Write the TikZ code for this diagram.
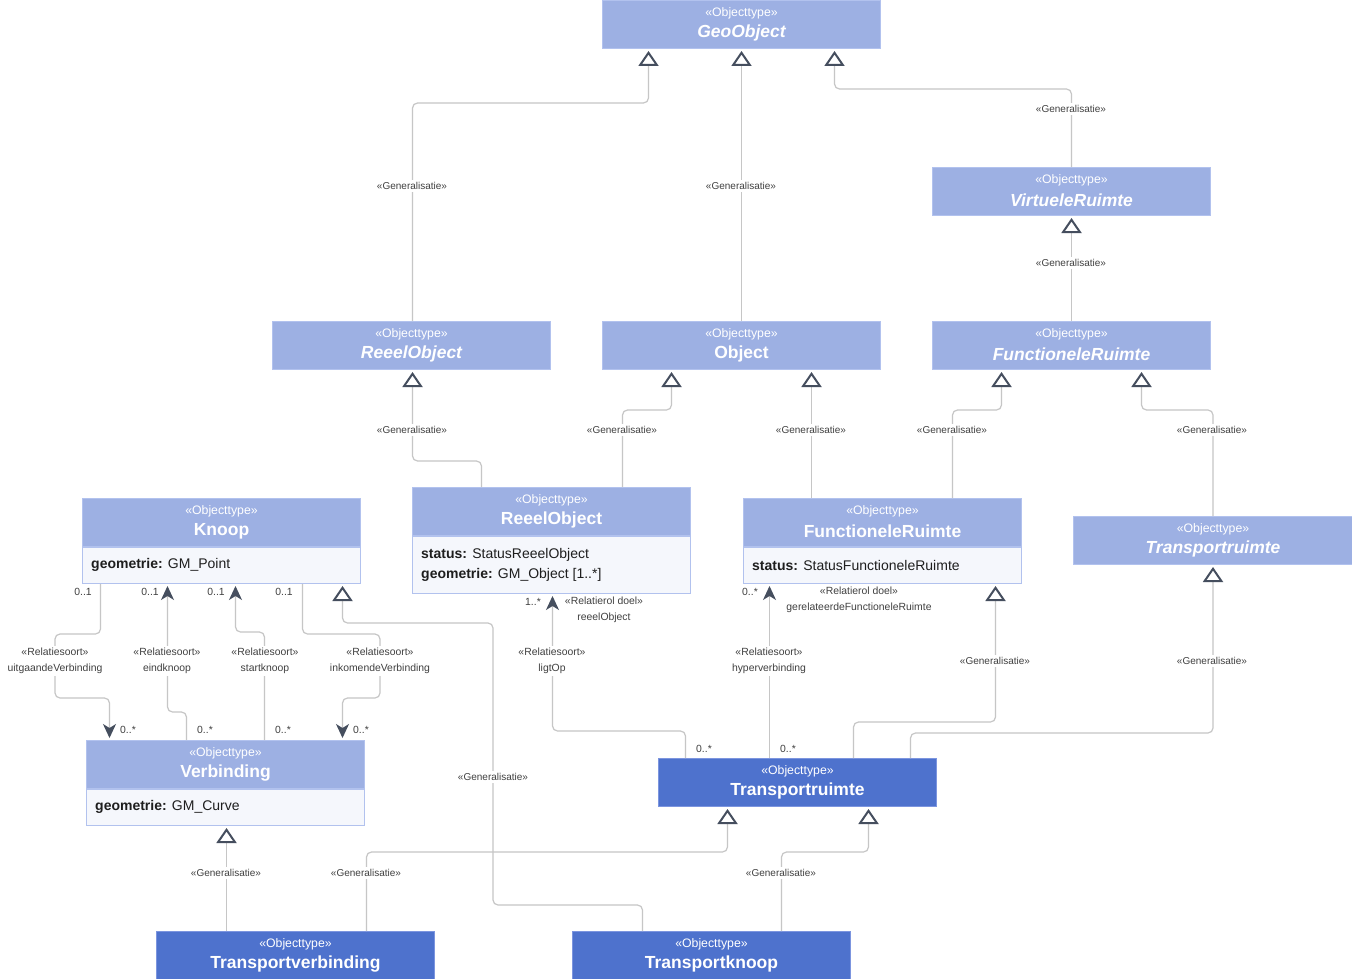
\documentclass[tikz,border=0pt]{standalone}
\usepackage{fontspec}
\setmainfont{Liberation Sans}
\usetikzlibrary{arrows.meta}
\definecolor{hdrblue}{HTML}{9DB0E3}
\definecolor{hdrborder}{HTML}{B2C2EE}
\definecolor{attrbg}{HTML}{F5F7FC}
\definecolor{darkblue}{HTML}{4E72CD}
\definecolor{darkborder}{HTML}{7C95DF}
\definecolor{linegray}{HTML}{C6C6C6}
\definecolor{tipdark}{HTML}{454E5E}
\definecolor{labgray}{HTML}{404040}
\definecolor{attrtext}{HTML}{1E1E1E}
\tikzset{
  hdr/.style={anchor=north west, minimum width=278pt, minimum height=48pt, inner sep=0pt, fill=hdrblue, draw=hdrborder, line width=1pt},
  hdrdark/.style={hdr, fill=darkblue, draw=darkborder},
  attrbox/.style={anchor=north west, minimum width=278pt, inner sep=0pt, fill=attrbg, draw=hdrborder, line width=1pt},
  ster/.style={text=white, font=\fontsize{12.3}{13}\selectfont, inner sep=0pt},
  cname/.style={text=white, font=\fontsize{17.5}{18}\selectfont\bfseries, inner sep=0pt},
  cnamei/.style={cname, font=\fontsize{17.5}{18}\selectfont\bfseries\itshape},
  attrtxt/.style={anchor=west, text=attrtext, font=\fontsize{14}{20}\selectfont, align=left, inner sep=0pt},
  conn/.style={draw=linegray, line width=1.2pt, rounded corners=5pt},
  gen/.style={conn, -{Triangle[open, length=15pt, width=20pt, line width=2pt, color=tipdark]}},
  assoc/.style={conn, -{Stealth[length=14pt, width=13pt, inset=4pt, color=tipdark]}},
  glab/.style={fill=white, text=labgray, font=\fontsize{10}{11}\selectfont, inner sep=2pt},
  rlab/.style={fill=white, text=labgray, font=\fontsize{10.4}{16}\selectfont, align=center, inner sep=2pt},
  mlab/.style={text=labgray, font=\fontsize{10.4}{11}\selectfont, inner sep=1pt},
}
\begin{document}
\begin{tikzpicture}[x=1pt,y=-1pt]
\useasboundingbox[fill=white] (0,0) rectangle (1352,979);

% ---- classes ----
\node[hdr] (geo) at (602,0) {};
\node[ster] (geos) at ([yshift=-13.5pt]geo.north) {«Objecttype»};
\node[cnamei] (geon) at ([yshift=-33pt]geo.north) {GeoObject};

\node[hdr] (vr) at (932,167) {};
\node[ster] (vrs) at ([yshift=-13.5pt]vr.north) {«Objecttype»};
\node[cnamei] (vrn) at ([yshift=-33pt]vr.north) {VirtueleRuimte};

\node[hdr] (roA) at (272,321) {};
\node[ster] (roAs) at ([yshift=-13.5pt]roA.north) {«Objecttype»};
\node[cnamei] (roAn) at ([yshift=-33pt]roA.north) {ReeelObject};

\node[hdr] (obj) at (602,321) {};
\node[ster] (objs) at ([yshift=-13.5pt]obj.north) {«Objecttype»};
\node[cname] (objn) at ([yshift=-33pt]obj.north) {Object};

\node[hdr] (frA) at (932,321) {};
\node[ster] (frAs) at ([yshift=-13.5pt]frA.north) {«Objecttype»};
\node[cnamei] (frAn) at ([yshift=-33pt]frA.north) {FunctioneleRuimte};

\node[hdr] (ro) at (412,487) {};
\node[ster] (ros) at ([yshift=-13.5pt]ro.north) {«Objecttype»};
\node[cname] (ron) at ([yshift=-33pt]ro.north) {ReeelObject};
\node[attrbox, minimum height=57pt] (roAt) at (ro.south west) {};
\node[attrtxt] (roT) at ([xshift=9pt,yshift=-29pt]roAt.north west) {\textbf{status:} StatusReeelObject\\\textbf{geometrie:} GM\_Object [1..*]};

\node[hdr] (knoop) at (82,498) {};
\node[ster] (knoops) at ([yshift=-13.5pt]knoop.north) {«Objecttype»};
\node[cname] (knoopn) at ([yshift=-33pt]knoop.north) {Knoop};
\node[attrbox, minimum height=36pt] (knoopA) at (knoop.south west) {};
\node[attrtxt] (knoopT) at ([xshift=9pt,yshift=-18pt]knoopA.north west) {\textbf{geometrie:} GM\_Point};

\node[hdr] (fr) at (743,498) {};
\node[ster] (frs) at ([yshift=-13.5pt]fr.north) {«Objecttype»};
\node[cname] (frn) at ([yshift=-33pt]fr.north) {FunctioneleRuimte};
\node[attrbox, minimum height=36pt] (frAt) at (fr.south west) {};
\node[attrtxt] (frT) at ([xshift=9pt,yshift=-18pt]frAt.north west) {\textbf{status:} StatusFunctioneleRuimte};

\node[hdr, minimum width=279pt] (trA) at (1073,516) {};
\node[ster] (trAs) at ([yshift=-13.5pt]trA.north) {«Objecttype»};
\node[cnamei] (trAn) at ([yshift=-33pt]trA.north) {Transportruimte};

\node[hdr] (verb) at (86,740) {};
\node[ster] (verbs) at ([yshift=-13.5pt]verb.north) {«Objecttype»};
\node[cname] (verbn) at ([yshift=-33pt]verb.north) {Verbinding};
\node[attrbox, minimum height=36pt] (verbA) at (verb.south west) {};
\node[attrtxt] (verbT) at ([xshift=9pt,yshift=-18pt]verbA.north west) {\textbf{geometrie:} GM\_Curve};

\node[hdrdark] (tr) at (658,758) {};
\node[ster] (trs) at ([yshift=-13.5pt]tr.north) {«Objecttype»};
\node[cname] (trn) at ([yshift=-33pt]tr.north) {Transportruimte};

\node[hdrdark] (tv) at (156,931) {};
\node[ster] (tvs) at ([yshift=-13.5pt]tv.north) {«Objecttype»};
\node[cname] (tvn) at ([yshift=-33pt]tv.north) {Transportverbinding};

\node[hdrdark] (tk) at (572,931) {};
\node[ster] (tks) at ([yshift=-13.5pt]tk.north) {«Objecttype»};
\node[cname] (tkn) at ([yshift=-33pt]tk.north) {Transportknoop};

% ---- generalisations ----
\draw[gen] ([xshift=1pt]roA.north) -- ++(0,-218) -| ([xshift=-93pt,yshift=-2pt]geo.south);
\draw[gen] (obj.north) -- ([yshift=-2pt]geo.south);
\draw[gen] (vr.north) -- ++(0,-78) -| ([xshift=93pt,yshift=-2pt]geo.south);
\draw[gen] (frA.north) -- ([yshift=-2pt]vr.south);
\draw[gen] ([xshift=-70pt]ro.north) -- ++(0,-26) -| ([xshift=1pt,yshift=-2pt]roA.south);
\draw[gen] ([xshift=71pt]ro.north) -- ++(0,-77) -| ([xshift=-70pt,yshift=-2pt]obj.south);
\draw[gen] ([xshift=-71pt]fr.north) -- ([xshift=70pt,yshift=-2pt]obj.south);
\draw[gen] ([xshift=70pt]fr.north) -- ++(0,-88) -| ([xshift=-70pt,yshift=-2pt]frA.south);
\draw[gen] (trA.north) -- ++(0,-106) -| ([xshift=70pt,yshift=-2pt]frA.south);
\draw[gen] ([xshift=56pt]tr.north) -- ++(0,-36) -| ([xshift=113pt,yshift=-2pt]frAt.south);
\draw[gen] ([xshift=113pt]tr.north) -- ++(0,-25) -| ([yshift=-2pt]trA.south);
\draw[gen] ([xshift=-69pt]tk.north) -- ++(0,-26) -| (493,623) -| ([xshift=121pt,yshift=-2pt]knoopA.south);
\draw[gen] ([xshift=-69pt]tv.north) -- ([xshift=1pt,yshift=-2pt]verbA.south);
\draw[gen] ([xshift=71pt]tv.north) -- ++(0,-79) -| ([xshift=-70pt,yshift=-2pt]tr.south);
\draw[gen] ([xshift=70pt]tk.north) -- ++(0,-79) -| ([xshift=71pt,yshift=-2pt]tr.south);

\node[glab] (g1) at (412,186) {«Generalisatie»};
\node[glab] (g2) at (741,186) {«Generalisatie»};
\node[glab] (g3) at (1071,109) {«Generalisatie»};
\node[glab] (g4) at (1071,263) {«Generalisatie»};
\node[glab] (g5) at (412,430) {«Generalisatie»};
\node[glab] (g6) at (622,430) {«Generalisatie»};
\node[glab] (g7) at (811,430) {«Generalisatie»};
\node[glab] (g8) at (952,430) {«Generalisatie»};
\node[glab] (g9) at (1212,430) {«Generalisatie»};
\node[glab] (g10) at (995,661) {«Generalisatie»};
\node[glab] (g11) at (1212,661) {«Generalisatie»};
\node[glab] (g12) at (493,777) {«Generalisatie»};
\node[glab] (g13) at (226,873) {«Generalisatie»};
\node[glab] (g14) at (366,873) {«Generalisatie»};
\node[glab] (g15) at (781,873) {«Generalisatie»};

% ---- associations ----
\draw[assoc] ([xshift=-121pt]knoopA.south) -- ++(0,50) -| (55,698) -| ([xshift=-116pt,yshift=2pt]verb.north);
\draw[assoc] ([xshift=-39pt]verb.north) -- ++(0,-28) -| ([xshift=-54pt,yshift=-2pt]knoopA.south);
\draw[assoc] ([xshift=39pt]verb.north) -- ++(0,-108) -| ([xshift=14pt,yshift=-2pt]knoopA.south);
\draw[assoc] ([xshift=81pt]knoopA.south) -- ++(0,50) -| (380,698) -| ([xshift=117pt,yshift=2pt]verb.north);
\draw[assoc] ([xshift=-112pt]tr.north) -- ++(0,-27) -| ([xshift=1pt,yshift=-2pt]roAt.south);
\draw[assoc] ([xshift=-28pt]tr.north) -- ([xshift=-113pt,yshift=-2pt]frAt.south);

\node[rlab] (r1) at (55,661) {«Relatiesoort»\\uitgaandeVerbinding};
\node[rlab] (r2) at (167,661) {«Relatiesoort»\\eindknoop};
\node[rlab] (r3) at (265,661) {«Relatiesoort»\\startknoop};
\node[rlab] (r4) at (380,661) {«Relatiesoort»\\inkomendeVerbinding};
\node[rlab] (r5) at (552,661) {«Relatiesoort»\\ligtOp};
\node[rlab] (r6) at (769,661) {«Relatiesoort»\\hyperverbinding};
\node[rlab, fill=none] (r7) at (604,610) {«Relatierol doel»\\reeelObject};
\node[rlab, fill=none] (r8) at (859,600) {«Relatierol doel»\\gerelateerdeFunctioneleRuimte};

\node[mlab] (m1) at (83,592) {0..1};
\node[mlab] (m2) at (150,592) {0..1};
\node[mlab] (m3) at (216,592) {0..1};
\node[mlab] (m4) at (284,592) {0..1};
\node[mlab] (m5) at (128,730) {0..*};
\node[mlab] (m6) at (205,730) {0..*};
\node[mlab] (m7) at (283,730) {0..*};
\node[mlab] (m8) at (361,730) {0..*};
\node[mlab] (m9) at (533,602) {1..*};
\node[mlab] (m10) at (750,592) {0..*};
\node[mlab] (m11) at (704,749) {0..*};
\node[mlab] (m12) at (788,749) {0..*};
\end{tikzpicture}
\end{document}
